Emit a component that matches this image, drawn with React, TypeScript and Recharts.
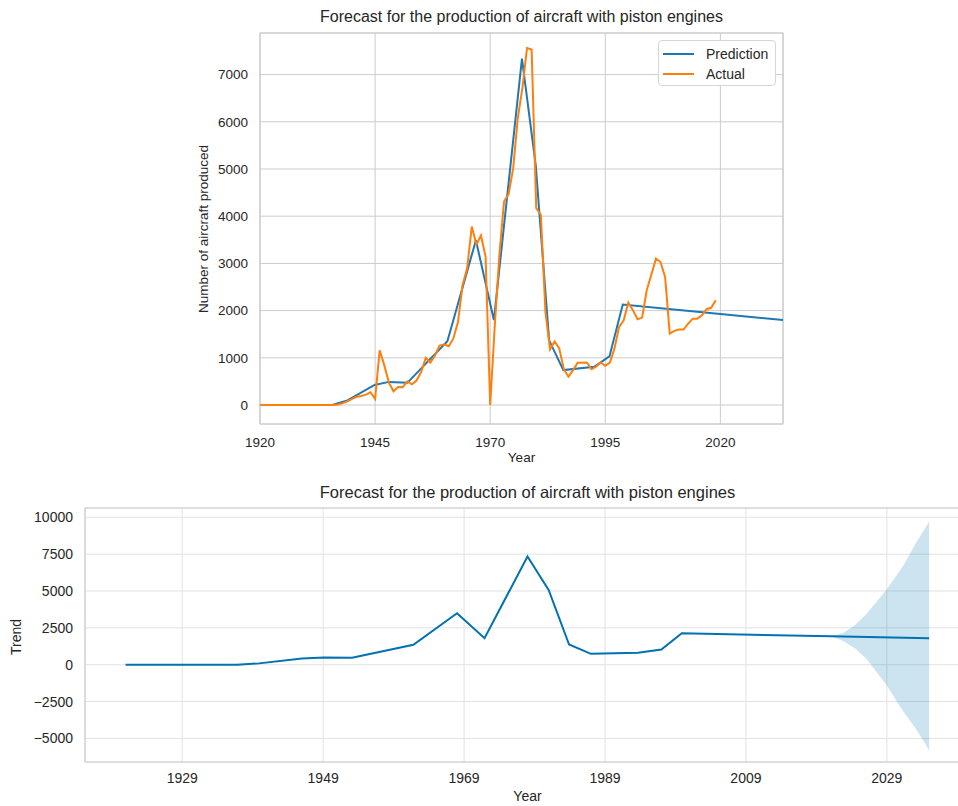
import {
  LineChart,
  Line,
  ComposedChart,
  Area,
  XAxis,
  YAxis,
  CartesianGrid,
  Legend,
  ReferenceArea,
} from 'recharts';

const FONT = '"Liberation Sans", Arial, Helvetica, sans-serif';
const TEXT = '#262626';

// Actual yearly production, one value per year starting 1920 (ends 2019)
const actualStartYear = 1920;
const actualValues = [
  0, 0, 0, 0, 0, 0, 0, 0, 0, 0, 0, 0, 0, 0, 0, 0,
  0, 10, 40, 80, 130, 175, 190, 220, 270, 130,
  1160, 840, 475, 290, 380, 375, 500, 440, 520, 700,
  1000, 900, 1050, 1260, 1280, 1245, 1410, 1760, 2540, 2900,
  3780, 3400, 3590, 3140, 0, 1690, 3180, 4310, 4470, 5020,
  6085, 6720, 7560, 7530, 4170, 4030, 1970, 1180, 1350, 1200,
  760, 600, 740, 895, 895, 900, 760, 810, 900, 830,
  900, 1200, 1655, 1795, 2170, 2010, 1817, 1852, 2430, 2760,
  3100, 3030, 2710, 1515, 1570, 1600, 1600, 1725, 1830, 1830,
  1900, 2030, 2060, 2220,
];

// Trend / prediction vertices (same values in both charts, different date axes)
const trendValues = [0, 0, 90, 425, 490, 470, 1350, 3490, 1800, 7340, 5070, 1370, 740, 810, 1030, 2130, 1930, 1800];
const predYears = [1920, 1935.7, 1938.8, 1944.9, 1948.0, 1952.0, 1960.7, 1966.9, 1970.8, 1976.9, 1979.9, 1982.8, 1985.9, 1992.6, 1995.9, 1998.8, 2020.0, 2033.6];
const trendYears = [1920.96, 1936.8, 1939.9, 1946.0, 1949.1, 1953.1, 1961.8, 1968.0, 1971.9, 1978.0, 1981.0, 1983.9, 1987.0, 1993.7, 1997.0, 1999.9, 2021.1, 2035.0];

// Uncertainty band of the trend
const bandYears = [2021.1, 2022.8, 2024.5, 2026.1, 2028.9, 2031.3, 2033.2, 2035.0];
const bandUpper = [1930, 2150, 2700, 3440, 5050, 6700, 8300, 9700];
const bandLower = [1930, 1600, 1100, 400, -1350, -3150, -4400, -5800];

const topXTicks = [1920, 1945, 1970, 1995, 2020];
const topYTicks = [0, 1000, 2000, 3000, 4000, 5000, 6000, 7000];
const bottomXTicks = [1929, 1949, 1969, 1989, 2009, 2029];
const bottomYTicks = [-5000, -2500, 0, 2500, 5000, 7500, 10000];

const TOP_X: [number, number] = [1920, 2033.6];
const TOP_Y: [number, number] = [-402, 7881];
const BOT_X: [number, number] = [1915.2, 2040.8];
const BOT_Y: [number, number] = [-6600, 10630];

const actualData = actualValues.map((v, i) => ({ year: actualStartYear + i, actual: v }));
const predData = predYears.map((y, i) => ({ year: y, pred: trendValues[i] }));
const trendData = trendYears.map((y, i) => ({ year: y, trend: trendValues[i] }));
const bandData = bandYears.map((y, i) => ({ year: y, band: [bandLower[i], bandUpper[i]] }));

const minus = (v: number) => String(v).replace('-', '\u2212');

const LegendBox = () => (
  <div
    style={{
      width: 118,
      height: 46,
      boxSizing: 'border-box',
      border: '1px solid #d6d6d6',
      borderRadius: 4,
      background: '#fff',
      fontFamily: FONT,
      fontSize: 14,
      color: TEXT,
      padding: '3px 0 0 4px',
    }}
  >
    {[
      { name: 'Prediction', color: '#1f77b4' },
      { name: 'Actual', color: '#ff7f0e' },
    ].map((it) => (
      <div key={it.name} style={{ display: 'flex', alignItems: 'center', height: 20 }}>
        <div style={{ width: 31, height: 2, background: it.color, marginRight: 12 }} />
        <span>{it.name}</span>
      </div>
    ))}
  </div>
);

export default function App() {
  const tickStyle = { fill: TEXT, fontSize: 13.5, fontFamily: FONT };
  return (
    <div
      style={{
        position: 'absolute',
        left: 0,
        top: 0,
        width: 958,
        height: 806,
        overflow: 'hidden',
        background: '#fff',
        fontFamily: FONT,
        color: TEXT,
      }}
    >
      {/* top chart */}
      <div style={{ position: 'absolute', left: 0, top: 0 }}>
        <LineChart width={958} height={470} margin={{ top: 33, right: 175, bottom: 16, left: 190 }}>
          <CartesianGrid stroke="#cccccc" strokeWidth={1} />
          <XAxis
            dataKey="year"
            type="number"
            domain={TOP_X}
            ticks={topXTicks}
            allowDataOverflow
            tick={tickStyle}
            tickLine={false}
            axisLine={false}
            tickSize={0}
            tickMargin={13}
            height={30}
          />
          <YAxis
            type="number"
            domain={TOP_Y}
            ticks={topYTicks}
            allowDataOverflow
            tick={tickStyle}
            tickLine={false}
            axisLine={false}
            tickSize={0}
            tickMargin={12}
            width={70}
          />
          <ReferenceArea x1={TOP_X[0]} x2={TOP_X[1]} y1={TOP_Y[0]} y2={TOP_Y[1]} fill="none" stroke="#cccccc" strokeWidth={1.2} />
          <Line data={predData} dataKey="pred" stroke="#1f77b4" strokeWidth={2} dot={false} isAnimationActive={false} />
          <Line data={actualData} dataKey="actual" stroke="#ff7f0e" strokeWidth={2} dot={false} isAnimationActive={false} />
          <Legend
            layout="vertical"
            align="center"
            verticalAlign="middle"
            content={() => <LegendBox />}
            wrapperStyle={{ left: 658, top: 40, width: 118, height: 46 }}
          />
        </LineChart>
      </div>

      <div style={{ position: 'absolute', left: 260, width: 523, top: 8, textAlign: 'center', fontSize: 16 }}>
        Forecast for the production of aircraft with piston engines
      </div>
      <div style={{ position: 'absolute', left: 260, width: 523, top: 450, textAlign: 'center', fontSize: 13.5 }}>
        Year
      </div>
      <div
        style={{
          position: 'absolute',
          left: 203,
          top: 229,
          width: 0,
          height: 0,
        }}
      >
        <div
          style={{
            position: 'absolute',
            whiteSpace: 'nowrap',
            fontSize: 13.5,
            transform: 'translate(-50%, -50%) rotate(-90deg)',
          }}
        >
          Number of aircraft produced
        </div>
      </div>

      {/* bottom chart */}
      <div style={{ position: 'absolute', left: 0, top: 470 }}>
        <ComposedChart width={985} height={336} margin={{ top: 38, right: 15, bottom: 14, left: 15 }}>
          <CartesianGrid stroke="#e2e2e2" strokeWidth={1} />
          <XAxis
            dataKey="year"
            type="number"
            domain={BOT_X}
            ticks={bottomXTicks}
            allowDataOverflow
            tick={{ ...tickStyle, fontSize: 14 }}
            tickLine={false}
            axisLine={false}
            tickSize={0}
            tickMargin={11}
            height={30}
          />
          <YAxis
            type="number"
            domain={BOT_Y}
            ticks={bottomYTicks}
            allowDataOverflow
            tick={{ ...tickStyle, fontSize: 14 }}
            tickFormatter={minus}
            tickLine={false}
            axisLine={false}
            tickSize={0}
            tickMargin={12}
            width={70}
          />
          <ReferenceArea x1={BOT_X[0]} x2={BOT_X[1]} y1={BOT_Y[0]} y2={BOT_Y[1]} fill="none" stroke="#cccccc" strokeWidth={1.2} />
          <Area
            data={bandData}
            dataKey="band"
            type="linear"
            stroke="none"
            fill="#0072B2"
            fillOpacity={0.2}
            isAnimationActive={false}
          />
          <Line data={trendData} dataKey="trend" stroke="#0072B2" strokeWidth={2} dot={false} isAnimationActive={false} />
        </ComposedChart>
      </div>

      <div style={{ position: 'absolute', left: 85, width: 885, top: 483, textAlign: 'center', fontSize: 16.5 }}>
        Forecast for the production of aircraft with piston engines
      </div>
      <div style={{ position: 'absolute', left: 85, width: 885, top: 788, textAlign: 'center', fontSize: 14 }}>
        Year
      </div>
      <div style={{ position: 'absolute', left: 16, top: 637, width: 0, height: 0 }}>
        <div
          style={{
            position: 'absolute',
            whiteSpace: 'nowrap',
            fontSize: 14,
            transform: 'translate(-50%, -50%) rotate(-90deg)',
          }}
        >
          Trend
        </div>
      </div>
    </div>
  );
}
